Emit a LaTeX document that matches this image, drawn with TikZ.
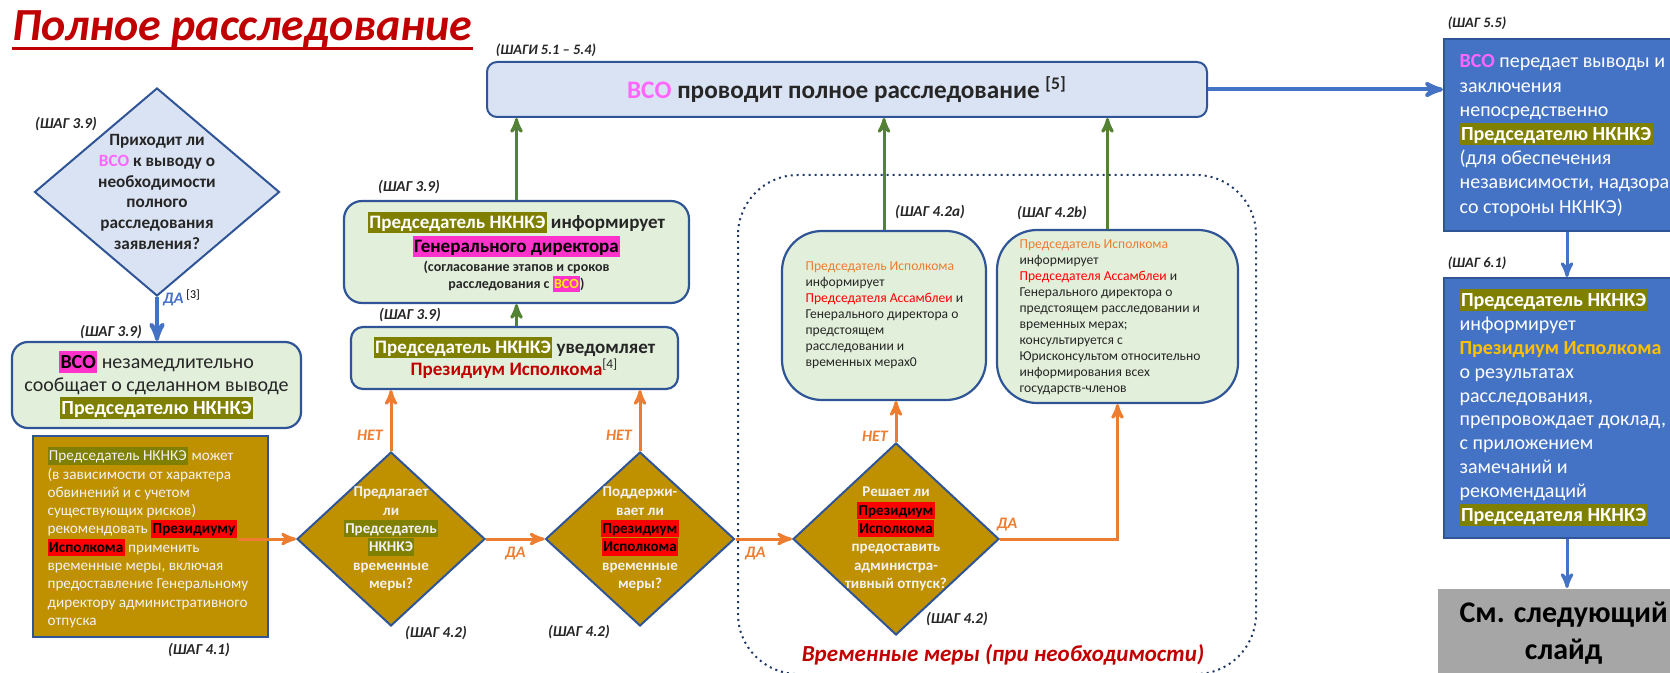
\documentclass[tikz,border=0pt]{standalone}
\usepackage{fontspec}
\setmainfont{Carlito}
\usetikzlibrary{arrows,shapes.geometric,positioning}

\definecolor{ttlred}{HTML}{C00000}
\definecolor{dblue}{HTML}{2F5597}
\definecolor{lblue}{HTML}{DAE3F3}
\definecolor{lgreen}{HTML}{E2EFDA}
\definecolor{gold}{HTML}{BF9000}
\definecolor{olv}{HTML}{7F7F00}
\definecolor{mag}{HTML}{FF33CC}
\definecolor{pinktxt}{HTML}{FF66FF}
\definecolor{orng}{HTML}{ED7D31}
\definecolor{grn}{HTML}{548235}
\definecolor{mblue}{HTML}{4472C4}
\definecolor{gry}{HTML}{A6A6A6}
\definecolor{ylw}{HTML}{FFC000}
\definecolor{frm}{HTML}{1F3864}
\definecolor{dtxt}{HTML}{262626}
\definecolor{ltxt}{HTML}{F2F2F2}

\setlength{\lineskiplimit}{-50pt}
\newcommand{\hlbox}[3]{{\setlength{\fboxsep}{0.7pt}\colorbox{#1}{\textcolor{#2}{\vphantom{Йу}#3}}}}

\begin{document}
\begin{tikzpicture}[x=0.5pt, y=-0.5pt, >=stealth', semithick,
  shag/.style={font=\fontsize{7.6}{9}\selectfont\bfseries\itshape, text=dtxt, inner sep=0pt},
  shagsm/.style={shag, font=\fontsize{7.2}{8.5}\selectfont\bfseries\itshape},
  gbox/.style={draw=dblue, fill=lgreen, line width=1.1pt, inner sep=0pt, align=center, text=dtxt},
  dmd/.style={diamond, draw=dblue, line width=1pt, inner sep=0pt},
  dtext/.style={align=center, inner sep=0pt, font=\fontsize{7.5}{9.15}\selectfont\bfseries, text=ltxt},
  btext/.style={anchor=west, align=left, inner sep=0pt, font=\fontsize{10}{12.1}\selectfont, text=white},
  stext/.style={anchor=west, align=left, inner sep=0pt, font=\fontsize{6.8}{8}\selectfont, text=dtxt},
  bbox/.style={anchor=north west, draw=dblue, fill=mblue, line width=1pt, inner sep=0pt, minimum width=123pt},
  yn/.style={font=\fontsize{8}{9}\selectfont\bfseries\itshape, text=orng},
  oarr/.style={->, draw=orng, line width=1.5pt},
  garr/.style={->, draw=grn, line width=1.5pt},
  barr/.style={->, draw=mblue, line width=1.5pt}]

\useasboundingbox (0, 0) rectangle (1670, 673);
\clip (0, 0) rectangle (1670, 673);

\node[anchor=base west, inner sep=0pt, font=\fontsize{23}{27}\selectfont\bfseries\itshape, text=ttlred] (title) at (12, 41) {Полное расследование};
\draw[ttlred, line width=1.6pt] ([yshift=-3.6pt]title.base west) -- ([yshift=-3.6pt]title.base east);

\draw[frm, dotted, line width=1pt, rounded corners=30pt] (738, 175) rectangle (1256, 674);
\node[font=\fontsize{11.5}{13}\selectfont\bfseries\itshape, text=ttlred] (cap) at (1003, 655) {Временные меры (при необходимости)};

\node[draw=dblue, fill=lblue, rounded corners=5pt, line width=1pt, minimum width=360pt, minimum height=27.5pt, font=\fontsize{12.6}{14}\selectfont\bfseries, text=dtxt] (inv) at (847, 89.5) {\textcolor{pinktxt}{ВСО} проводит полное расследование \textsuperscript{[5]}};
\node[shagsm] (s0) at (546, 50) {(ШАГИ 5.1 – 5.4)};

\node[dmd, fill=lblue, minimum width=122.5pt, minimum height=104pt] (q1) at (157, 192) {};
\node[align=center, inner sep=0pt, font=\fontsize{8.6}{10.35}\selectfont\bfseries, text=dtxt] (q1t) at (q1) {Приходит ли\\\textcolor{pinktxt}{ВСО} к выводу о\\необходимости\\полного\\расследования\\заявления?};
\node[shag] (s1) at (66, 124) {(ШАГ 3.9)};
\node[font=\fontsize{8}{9}\selectfont\bfseries, inner sep=0pt] (da0) at (182, 298) {\textcolor{mblue}{\itshape ДА}\,\textsuperscript{\mdseries[3]}};

\node[gbox, rounded corners=8pt, minimum width=144.5pt, minimum height=43pt, font=\fontsize{10}{11.5}\selectfont] (n1) at (156.5, 385) {\hlbox{mag}{black}{\textbf{ВСО}} незамедлительно\\сообщает о сделанном выводе\\\hlbox{olv}{white}{\textbf{Председателю НКНКЭ}}};
\node[shag] (s2) at (111, 332) {(ШАГ 3.9)};

\node[draw=dblue, fill=gold, line width=1.1pt, minimum width=117.5pt, minimum height=100.5pt, inner sep=0pt] (n2) at (150.5, 536.5) {};
\node[stext, font=\fontsize{7.6}{9.15}\selectfont, text=ltxt] (n2t) at (47, 537.5) {\hlbox{olv}{ltxt}{Председатель НКНКЭ} может\\(в зависимости от характера\\обвинений и с учетом\\существующих рисков)\\рекомендовать \hlbox{red}{black}{\textbf{Президиуму}}\\\hlbox{red}{black}{\textbf{Исполкома}} применить\\временные меры, включая\\предоставление Генеральному\\директору административного\\отпуска};
\node[shag] (s3) at (199, 650) {(ШАГ 4.1)};
\coordinate (c1) at (238, 539);

\node[dmd, fill=gold, minimum width=94pt, minimum height=87pt] (q2) at (391, 539) {};
\node[dtext] (q2t) at (q2) {Предлагает\\ли\\\hlbox{olv}{ltxt}{Председатель}\\\hlbox{olv}{ltxt}{НКНКЭ}\\временные\\меры?};
\node[shag] (s4) at (436, 633) {(ШАГ 4.2)};

\node[dmd, fill=gold, minimum width=94.5pt, minimum height=87pt] (q3) at (640, 539) {};
\node[dtext] (q3t) at (q3) {Поддержи-\\вает ли\\\hlbox{red}{black}{Президиум}\\\hlbox{red}{black}{Исполкома}\\временные\\меры?};
\node[shag] (s5) at (579, 632) {(ШАГ 4.2)};

\node[gbox, rounded corners=6pt, minimum width=163.5pt, minimum height=31pt, font=\fontsize{9.5}{11}\selectfont\bfseries] (n3) at (514.5, 358) {\hlbox{olv}{white}{Председатель НКНКЭ} уведомляет\\\textcolor{ttlred}{Президиум Исполкома}\textsuperscript{\mdseries[4]}};
\node[shag] (s6) at (410, 315) {(ШАГ 3.9)};

\node[gbox, rounded corners=9pt, minimum width=172.5pt, minimum height=51pt, font=\fontsize{9.5}{12}\selectfont\bfseries] (n4) at (516.5, 252) {\hlbox{olv}{white}{Председатель НКНКЭ} информирует\\\hlbox{mag}{black}{Генерального директора}\\[-2.5pt]{\fontsize{7}{8.5}\selectfont (согласование этапов и сроков}\\[-3.5pt]{\fontsize{7}{8.5}\selectfont расследования с \hlbox{mag}{yellow}{ВСО})}};
\node[shag] (s7) at (409, 187) {(ШАГ 3.9)};

\node[gbox, rounded corners=20pt, minimum width=102pt, minimum height=84.5pt] (ma) at (884, 315.5) {};
\node[stext] (mat) at (805, 315) {\textcolor{orng}{Председатель Исполкома}\\информирует\\\textcolor{red}{Председателя Ассамблеи} и\\Генерального директора о\\предстоящем\\расследовании и\\временных мерах0};
\node[shag] (s8) at (930, 212) {(ШАГ 4.2a)};

\node[gbox, rounded corners=20pt, minimum width=120.5pt, minimum height=86.5pt] (mb) at (1117.5, 316.5) {};
\node[stext] (mbt) at (1019, 317) {\textcolor{orng}{Председатель Исполкома}\\информирует\\\textcolor{red}{Председателя Ассамблеи} и\\Генерального директора о\\предстоящем расследовании и\\временных мерах;\\консультируется с\\Юрисконсультом относительно\\информирования всех\\государств-членов};
\node[shag] (s9) at (1052, 213) {(ШАГ 4.2b)};

\node[dmd, fill=gold, minimum width=103pt, minimum height=96pt] (q4) at (896, 539) {};
\node[dtext] (q4t) at (q4) {Решает ли\\\hlbox{red}{black}{Президиум}\\\hlbox{red}{black}{Исполкома}\\предоставить\\администра-\\тивный отпуск?};
\node[shag] (s10) at (957, 619) {(ШАГ 4.2)};

\node[bbox, minimum height=96pt] (bb1) at (1443, 38) {};
\node[btext] (bb1t) at (1459, 135.5) {\textcolor{pinktxt}{\textbf{ВСО}} передает выводы и\\заключения\\непосредственно\\\hlbox{olv}{white}{\textbf{Председателю НКНКЭ}}\\(для обеспечения\\независимости, надзора\\со стороны НКНКЭ)};
\node[shagsm] (s11) at (1477, 23) {(ШАГ 5.5)};

\node[bbox, minimum height=130pt] (bb2) at (1443, 277) {};
\node[btext, font=\fontsize{10}{11.95}\selectfont] (bb2t) at (1459, 407.5) {\hlbox{olv}{white}{\textbf{Председатель НКНКЭ}}\\информирует\\\textcolor{ylw}{\textbf{Президиум Исполкома}}\\о результатах\\расследования,\\препровождает доклад,\\с приложением\\замечаний и\\рекомендаций\\\hlbox{olv}{white}{\textbf{Председателя НКНКЭ}}};
\node[shagsm] (s12) at (1477, 263) {(ШАГ 6.1)};

\node[anchor=north west, fill=gry, inner sep=0pt, minimum width=126pt, minimum height=45pt, align=center, font=\fontsize{15}{18.5}\selectfont\bfseries, text=black] (gr) at (1437, 588) {См. следующий\\слайд};

\draw[barr, line width=2pt] (q1.south) -- (q1.south |- n1.north);
\draw[oarr] (c1) -- (q2.west);
\draw[oarr] (q2.east) -- node[yn, below] (da1) {ДА} (q3.west);
\draw[oarr] (q3.east) -- node[yn, below, pos=0.35] (da2) {ДА} (q4.west);
\draw[oarr] (q2.north) -- node[yn, left, pos=0.25] (net1) {НЕТ} (q2.north |- n3.south);
\draw[oarr] (q3.north) -- node[yn, left, pos=0.25] (net2) {НЕТ} (q3.north |- n3.south);
\draw[oarr] (q4.north) -- node[yn, left, pos=0.15] (net3) {НЕТ} (q4.north |- ma.south);
\draw[oarr] (q4.east) -| node[yn, above, pos=0.03] (da3) {ДА} (mb.south);

\draw[garr] (n4.south |- n3.north) -- (n4.south);
\draw[garr] (n4.north) -- (n4.north |- inv.south);
\draw[garr] (ma.north) -- (ma.north |- inv.south);
\draw[garr] ([xshift=-5pt]mb.north) -- ([xshift=-5pt]mb.north |- inv.south);

\draw[barr, line width=2pt] (inv.east) -- (inv.east -| bb1.west);
\draw[barr] (bb1.south) -- (bb2.north);
\draw[barr] (bb2.south) -- (bb2.south |- gr.north);

\end{tikzpicture}
\end{document}
